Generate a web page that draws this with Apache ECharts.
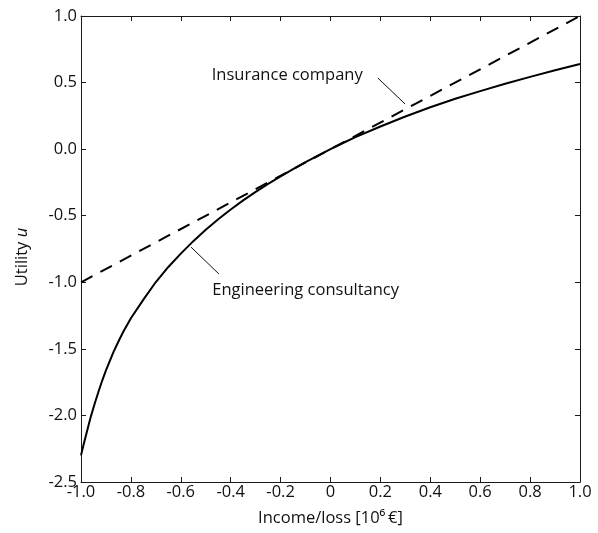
<!DOCTYPE html>
<html>
<head>
<meta charset="utf-8">
<script src="https://cdn.jsdelivr.net/npm/echarts@6/dist/echarts.min.js"></script>
<style>
html,body{margin:0;padding:0;background:#fff;}
#c{width:598px;height:533px;}
</style>
</head>
<body>
<div id="c"></div>
<script>
// Engineering consultancy utility curve
var consultX = [-1.00,-0.99,-0.98,-0.97,-0.96,-0.945,-0.93,-0.915,-0.90,-0.87,-0.85,-0.83,-0.80,-0.75,-0.70,-0.65,-0.60,-0.55,-0.50,-0.45,-0.40,-0.35,-0.30,-0.25,-0.20,-0.15,-0.10,-0.05,0.00,0.05,0.10,0.20,0.30,0.40,0.50,0.60,0.70,0.80,0.90,1.00];
var consultU = [-2.30,-2.222,-2.148,-2.075,-2.005,-1.91,-1.822,-1.738,-1.662,-1.525,-1.445,-1.37,-1.27,-1.13,-0.998,-0.885,-0.785,-0.691,-0.605,-0.526,-0.453,-0.385,-0.321,-0.261,-0.204,-0.150,-0.098,-0.048,0.00,0.046,0.09,0.17,0.245,0.315,0.378,0.436,0.491,0.543,0.593,0.64];
// Insurance company (straight line)
var insureX = [-1.0, 1.0];
var insureU = [-1.0, 1.0];

var xTicks = {min:-1, max:1, interval:0.2};
var yTicks = {min:-2.5, max:1, interval:0.5};

var xLabel = 'Income/loss [10\u2076\u2009\u20AC]';
var yLabelMain = 'Utility ';
var yLabelVar = 'u';

// annotation anchors (data coords)
var annInsure = {text:'Insurance company', at:[-0.476, 0.551], from:[0.190, 0.534], to:[0.299, 0.339]};
var annConsult = {text:'Engineering consultancy', at:[-0.474, -1.059], from:[-0.559, -0.736], to:[-0.447, -0.938]};

function pairs(xs, ys){ return xs.map(function(x,i){return [x, ys[i]];}); }

var FONT = 'Open Sans';
var FS = 16.5;
var axisCommon = {
  axisLine:{show:true, onZero:false, lineStyle:{color:'#1a1a1a', width:1}},
  axisTick:{show:true, inside:true, length:5, lineStyle:{color:'#1a1a1a', width:1}},
  splitLine:{show:false}
};

var chart = echarts.init(document.getElementById('c'), null, {renderer:'canvas'});
var option = {
  animation:false,
  backgroundColor:'#fff',
  grid:{left:81, right:18, top:16, bottom:51, containLabel:false},
  xAxis:[
    Object.assign({type:'value', position:'bottom', min:xTicks.min, max:xTicks.max, interval:xTicks.interval,
      name:xLabel, nameLocation:'middle', nameGap:28,
      nameTextStyle:{fontFamily:FONT, fontSize:FS, color:'#111'},
      axisLabel:{show:true, margin:2, fontFamily:FONT, fontSize:FS, color:'#111',
        formatter:function(v){ v = Math.round(v*10)/10; return v===0 ? '0' : v.toFixed(1); }}
    }, axisCommon),
    Object.assign({type:'value', position:'top', min:xTicks.min, max:xTicks.max, interval:xTicks.interval,
      axisLabel:{show:false}}, axisCommon)
  ],
  yAxis:[
    Object.assign({type:'value', position:'left', min:yTicks.min, max:yTicks.max, interval:yTicks.interval,
      name:yLabelMain + '{i|' + yLabelVar + '}', nameLocation:'middle', nameGap:50,
      nameTextStyle:{fontFamily:FONT, fontSize:FS, color:'#111', padding:[0,0,0,-16], rich:{i:{fontFamily:FONT, fontSize:FS, fontStyle:'italic', color:'#111'}}},
      axisLabel:{show:true, margin:4, fontFamily:FONT, fontSize:FS, color:'#111',
        formatter:function(v){ return (Math.round(v*10)/10).toFixed(1); }}
    }, axisCommon),
    Object.assign({type:'value', position:'right', min:yTicks.min, max:yTicks.max, interval:yTicks.interval,
      axisLabel:{show:false}}, axisCommon)
  ],
  series:[
    {type:'line', name:'Engineering consultancy', data:pairs(consultX, consultU), showSymbol:false,
     smooth:false, lineStyle:{color:'#000', width:2}, z:3},
    {type:'line', name:'Insurance company', data:pairs(insureX, insureU), showSymbol:false,
     lineStyle:{color:'#000', width:2, type:[13,9]}, z:3}
  ]
};
chart.setOption(option);

function px(p){ return chart.convertToPixel({xAxisIndex:0, yAxisIndex:0}, p); }
function annGraphics(a){
  var t = px(a.at), f = px(a.from), e = px(a.to);
  return [
    {type:'text', x:t[0], y:t[1], style:{text:a.text, fontFamily:FONT, fontSize:FS, fill:'#111', verticalAlign:'middle', align:'left'}},
    {type:'line', shape:{x1:f[0], y1:f[1], x2:e[0], y2:e[1]}, style:{stroke:'#111', lineWidth:1}}
  ];
}
chart.setOption({graphic: annGraphics(annInsure).concat(annGraphics(annConsult))});
</script>
</body>
</html>
